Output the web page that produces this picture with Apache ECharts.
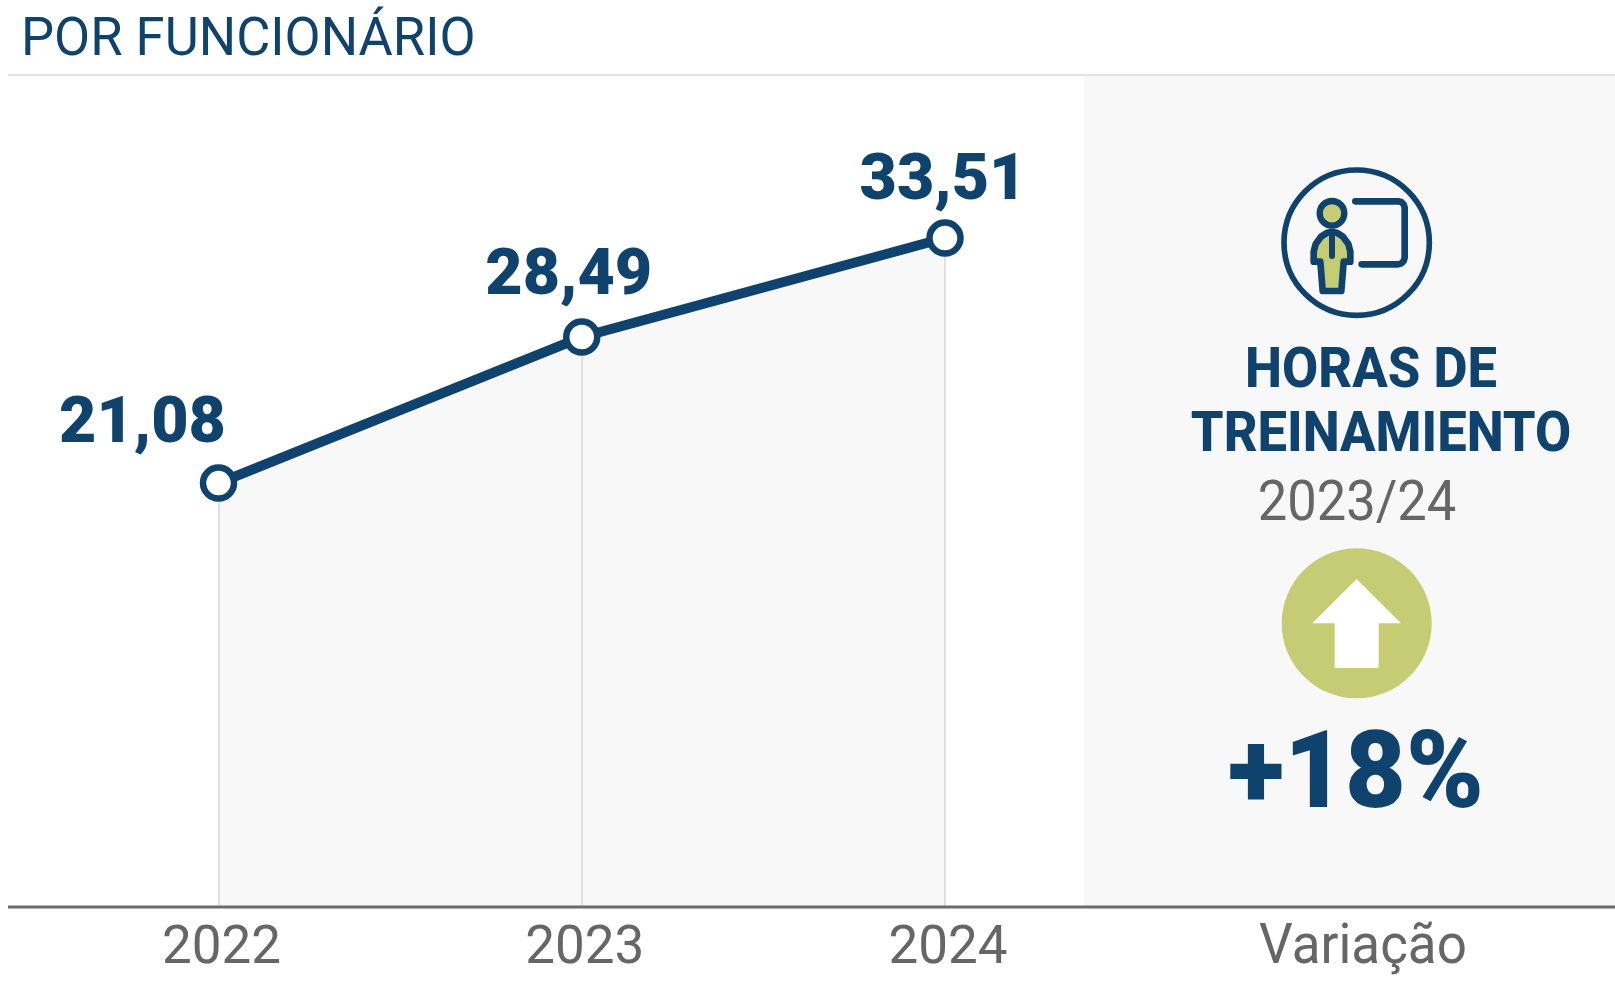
<!DOCTYPE html>
<html><head><meta charset="utf-8">
<style>html,body{margin:0;padding:0;background:#fff}#c{width:1615px;height:981px}</style>
<script src="https://cdn.jsdelivr.net/npm/echarts@6/dist/echarts.min.js"></script>
</head><body><div id="c"></div>
<script>
const categories = ['2022', '2023', '2024'];
const hours = [21.08, 28.49, 33.51];
const titleText = 'POR FUNCIONÁRIO';
const panelLines = ['HORAS DE', 'TREINAMIENTO', '2023/24'];
const variationText = '+18%';
const variationLabel = 'Variação';

const NAVY = '#0f436e', OLIVE = '#c5cc74', GREY = '#666666', FONT = 'Roboto';
const FILL = '#f8f8f8';
const Y_MIN = -0.42, Y_MAX = 41.78;
const labelOffsets = [[-76, -57], [-13, -59], [-2, -55]];
const fmt = v => v.toFixed(2).replace('.', ',');

function txt(s, x, y, size, weight, color, sy) {
  return { type: 'text', x, y, scaleY: sy || 1.05, z: 20, style: { text: s, fontFamily: FONT, fontSize: size, fontWeight: weight, fill: color, align: 'center', verticalAlign: 'middle' } };
}
function iconGroup(originX, originY, children) {
  return { type: 'group', x: originX, y: originY, scaleX: 1 / 3, scaleY: 1 / 3, z: 20, children };
}
const strokeN = (w, extra) => Object.assign({ stroke: NAVY, lineWidth: w, lineCap: 'round', lineJoin: 'round' }, extra || {});

const personIcon = iconGroup(1240, 150, [
  { type: 'circle', shape: { cx: 350, cy: 278, r: 218 }, style: strokeN(17, { fill: 'transparent' }) },
  { type: 'circle', shape: { cx: 276, cy: 190, r: 37 }, style: strokeN(19, { fill: OLIVE }) },
  { type: 'polygon', shape: { points: [[221, 335], [221, 305], [227, 282], [243, 260], [262, 248], [276, 245], [290, 248], [309, 260], [325, 282], [331, 305], [331, 335], [311, 335], [304, 423], [248, 423], [241, 335]] }, style: strokeN(20, { fill: OLIVE }) },
  { type: 'line', shape: { x1: 276, y1: 250, x2: 276, y2: 318 }, style: strokeN(18) },
  { type: 'polyline', shape: { points: [[346, 154], [474, 154], [484, 156], [491, 163], [494, 173], [494, 323], [491, 333], [484, 340], [474, 343], [365, 343]] }, style: strokeN(20, { fill: 'transparent' }) }
]);
const arrowIcon = iconGroup(1240, 530, [
  { type: 'circle', shape: { cx: 350, cy: 280, r: 225 }, style: { fill: OLIVE } },
  { type: 'polygon', shape: { points: [[350, 147], [483, 280], [416, 280], [416, 414], [284, 414], [284, 280], [217, 280]] }, style: { fill: '#fff' } }
]);

const option = {
  animation: false,
  backgroundColor: '#ffffff',
  grid: { left: 218.5, width: 726.5, top: 75, height: 832 },
  xAxis: {
    type: 'category', data: categories, boundaryGap: false,
    axisLine: { show: false }, axisTick: { show: false }, splitLine: { show: false },
    axisLabel: { color: GREY, fontFamily: FONT, fontSize: 53, margin: 16, padding: [0, 0, 0, 6], showMinLabel: true, showMaxLabel: true }
  },
  yAxis: { type: 'value', min: Y_MIN, max: Y_MAX, show: false, splitLine: { show: false } },
  series: [{
    type: 'line', data: hours, z: 1, symbol: 'none', silent: true,
    lineStyle: { width: 0, opacity: 0 },
    areaStyle: { color: FILL, origin: 'start', opacity: 1 }
  }, {
    type: 'line', data: hours, z: 5,
    lineStyle: { color: NAVY, width: 10 },
    symbol: 'circle', symbolSize: 31, showSymbol: true,
    itemStyle: { color: '#ffffff', borderColor: NAVY, borderWidth: 6.5, opacity: 1 },
    label: {
      show: true, position: 'inside', color: NAVY, fontFamily: FONT, fontWeight: 900, fontSize: 64.5,
      formatter: p => fmt(p.value)
    },
    labelLayout: p => ({ dx: labelOffsets[p.dataIndex][0], dy: labelOffsets[p.dataIndex][1] }),
    markLine: {
      silent: true, symbol: 'none', label: { show: false },
      lineStyle: { color: '#e0e0e0', width: 2, type: 'solid' },
      data: categories.map((c, i) => [{ coord: [c, Y_MIN] }, { coord: [c, hours[i]] }])
    }
  }],
  graphic: { elements: [
    { type: 'rect', shape: { x: 1084, y: 75, width: 531, height: 832 }, style: { fill: FILL }, z: 0 },
    { type: 'line', shape: { x1: 8, y1: 75, x2: 1615, y2: 75 }, style: { stroke: '#e3e3e3', lineWidth: 2 }, z: 10 },
    { type: 'line', shape: { x1: 8, y1: 907, x2: 1615, y2: 907 }, style: { stroke: '#6b6b6b', lineWidth: 3 }, z: 10 },
    { type: 'text', x: 21, y: 41, scaleY: 1.03, z: 20, style: { text: titleText, fontFamily: FONT, fontSize: 52.5, fill: NAVY, align: 'left', verticalAlign: 'middle' } },
    personIcon,
    txt(panelLines[0], 1371, 373, 52.5, 800, NAVY),
    txt(panelLines[1], 1381, 437, 52.5, 800, NAVY),
    txt(panelLines[2], 1357, 506, 52.5, 'normal', GREY),
    arrowIcon,
    txt(variationText, 1356, 780, 105, 900, NAVY, 1.02),
    txt(variationLabel, 1363, 949, 53, 'normal', GREY, 1.03)
  ] }
};
echarts.init(document.getElementById('c'), null, { renderer: 'canvas' }).setOption(option);
</script></body></html>
